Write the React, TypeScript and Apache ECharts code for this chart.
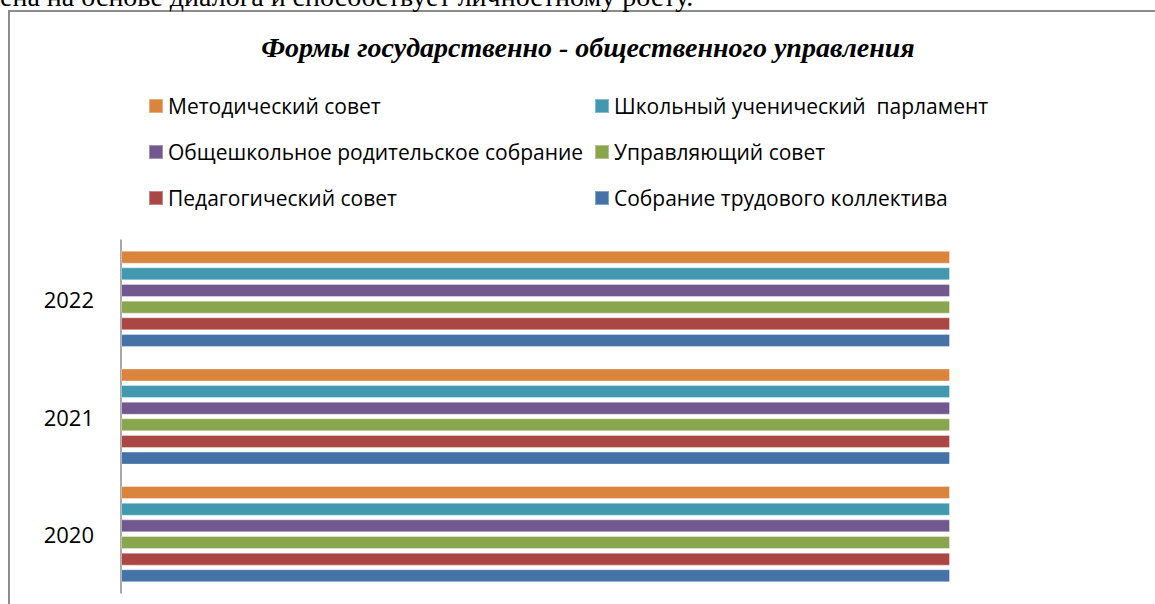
import React, { useEffect, useRef } from "react";
import * as echarts from "echarts";

const categories = ["2020", "2021", "2022"];
const seriesNames = [
  "Методический совет",
  "Школьный ученический  парламент",
  "Общешкольное родительское собрание",
  "Управляющий совет",
  "Педагогический совет",
  "Собрание трудового коллектива",
];
const seriesColors = ["#DB843D", "#4198AF", "#71588F", "#89A54E", "#AA4643", "#4572A7"];
const methodSovet = [1, 1, 1];
const parliament = [1, 1, 1];
const parentMeeting = [1, 1, 1];
const governingBoard = [1, 1, 1];
const pedSovet = [1, 1, 1];
const staffMeeting = [1, 1, 1];
const seriesValues = [methodSovet, parliament, parentMeeting, governingBoard, pedSovet, staffMeeting];

const legendLeft = [seriesNames[0], seriesNames[2], seriesNames[4]];
const legendRight = [seriesNames[1], seriesNames[3], seriesNames[5]];

const titleText = "Формы государственно - общественного управления";
const topText = "ена на основе диалога и способствует личностному росту.";

export default function App() {
  const ref = useRef<HTMLDivElement>(null);
  useEffect(() => {
    if (!ref.current) return;
    const chart = echarts.init(ref.current, undefined, { renderer: "svg" });
    const legendText = { fontFamily: "Open Sans", fontSize: 21, color: "#000", lineHeight: 24 };
    chart.setOption({
      animation: false,
      backgroundColor: "#fff",
      title: {
        text: titleText,
        left: 588,
        textAlign: "center",
        top: 33,
        padding: 0,
        textStyle: {
          fontFamily: "Liberation Serif",
          fontStyle: "italic",
          fontWeight: "bold",
          fontSize: 28,
          color: "#000",
        },
      },
      graphic: [
        {
          type: "rect",
          shape: { x: 9, y: 11, width: 1300, height: 800 },
          style: { fill: "none", stroke: "#8c8c8c", lineWidth: 2 },
          silent: true,
        },
        {
          type: "text",
          x: 0,
          y: -4,
          style: {
            text: topText,
            fontFamily: "Liberation Serif",
            fontSize: 28,
            fill: "#000",
            verticalAlign: "middle",
            align: "left",
          },
          silent: true,
        },
      ],
      legend: [
        {
          data: legendLeft,
          orient: "vertical",
          left: 148,
          top: 94,
          padding: 0,
          itemWidth: 14,
          itemHeight: 14,
          itemGap: 22,
          icon: "rect",
          selectedMode: false,
          textStyle: legendText,
        },
        {
          data: legendRight,
          orient: "vertical",
          left: 594,
          top: 94,
          padding: 0,
          itemWidth: 14,
          itemHeight: 14,
          itemGap: 22,
          icon: "rect",
          selectedMode: false,
          textStyle: legendText,
        },
      ],
      grid: { left: 121, right: 205, top: 240, bottom: 11, containLabel: false },
      xAxis: { type: "value", min: 0, max: 1, show: false },
      yAxis: {
        type: "category",
        data: categories,
        axisLine: { show: true, lineStyle: { color: "#8c8c8c", width: 1.5 } },
        axisTick: { show: false },
        axisLabel: { fontFamily: "Open Sans", fontSize: 22, color: "#000", margin: 27 },
        splitLine: { show: false },
      },
      series: seriesNames.map((name, i) => ({
        name,
        type: "bar",
        data: seriesValues[i],
        barWidth: 13,
        barGap: "28%",
        itemStyle: {
          color: seriesColors[i],
          borderColor: "rgba(255,255,255,0.35)",
          borderWidth: 1,
        },
        emphasis: { disabled: true },
      })),
    });
    return () => chart.dispose();
  }, []);
  return (
    <div
      ref={ref}
      style={{ position: "fixed", left: 0, top: 0, width: 1155, height: 604 }}
    />
  );
}
